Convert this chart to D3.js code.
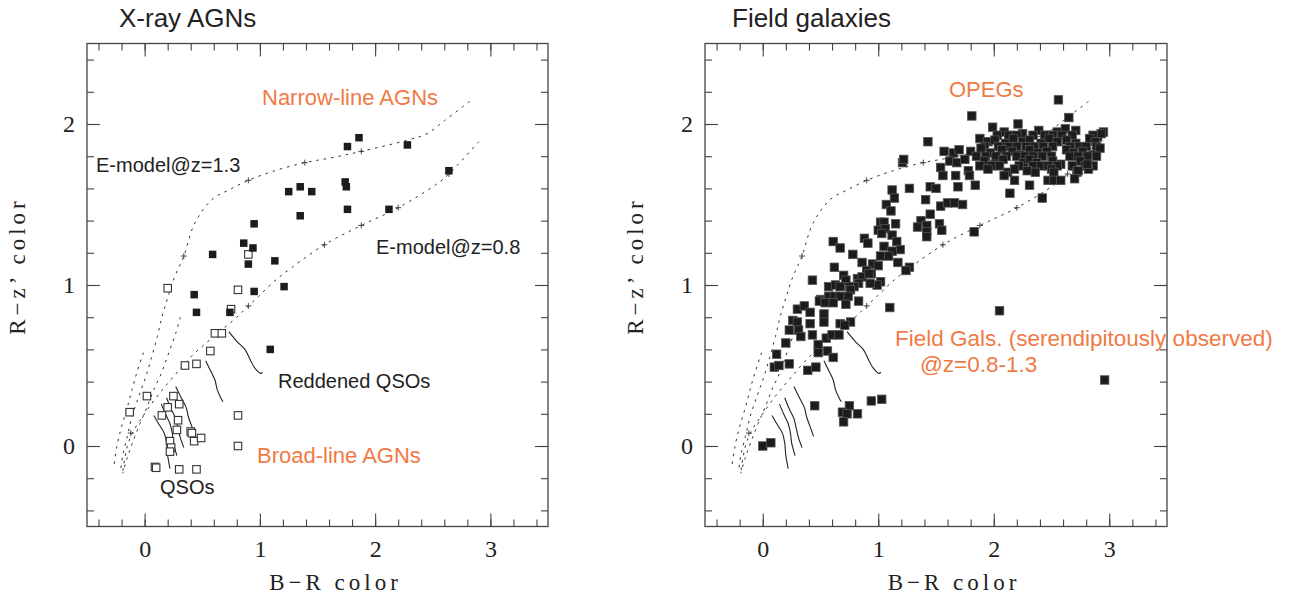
<!DOCTYPE html>
<html>
<head>
<meta charset="utf-8">
<script src="https://cdn.jsdelivr.net/npm/d3@7"></script>
<style>
  body { margin: 0; background: #fff; }
  svg { display: block; }
</style>
</head>
<body>
<div id="chart"></div>
<script>
// tick labels for both panels
const xTicks = [0, 1, 2, 3];
const yTicks = [0, 1, 2];

// X-ray AGNs panel, points are [B-R, R-z']
const narrowLineAGNs = [
  [1.76, 1.86], [1.86, 1.915], [2.28, 1.87], [2.64, 1.71], [1.25, 1.58], [1.35, 1.61],
  [1.45, 1.58], [1.74, 1.64], [1.75, 1.61], [1.76, 1.47], [2.12, 1.47], [1.35, 1.43],
  [0.95, 1.38], [0.86, 1.26], [0.94, 1.23], [0.59, 1.19], [1.13, 1.15], [0.90, 1.13],
  [1.21, 0.99], [0.43, 0.94], [0.95, 0.96], [0.45, 0.83], [0.74, 0.83], [1.09, 0.60]
];
const broadLineAGNs = [
  [0.90, 1.19], [0.20, 0.98], [0.81, 0.97], [0.75, 0.85], [0.61, 0.70], [0.67, 0.70],
  [0.57, 0.59], [0.35, 0.50], [0.45, 0.51], [0.02, 0.31], [0.25, 0.31], [-0.13, 0.21],
  [0.20, 0.24], [0.30, 0.26], [0.15, 0.19], [0.29, 0.16], [0.81, 0.19], [0.28, 0.10],
  [0.40, 0.09], [0.41, 0.08], [0.22, 0.03], [0.23, -0.01], [0.22, -0.035], [0.43, 0.03],
  [0.49, 0.05], [0.81, 0.0], [0.09, -0.13], [0.10, -0.135], [0.30, -0.145], [0.45, -0.145]
];

// Field galaxies panel
const fieldGalaxies = [
  // top and the dense OPEG clump
  [2.56, 2.15], [1.81, 2.05], [2.65, 2.04], [2.21, 2.00], [2.71, 1.96], [1.99, 1.98],
  [1.43, 1.89], [2.95, 1.95], [2.90, 1.92], [1.21, 1.76], [1.22, 1.78],
  [2.09, 1.95], [2.25, 1.94], [2.39, 1.96], [2.47, 1.93], [2.55, 1.95], [2.62, 1.97], [2.93, 1.94],
  [2.03, 1.93], [2.13, 1.93], [2.20, 1.93], [2.34, 1.93], [2.44, 1.93], [2.51, 1.93], [2.59, 1.93],
  [2.68, 1.93], [2.86, 1.93],
  [1.88, 1.91], [1.95, 1.89], [2.01, 1.90], [2.10, 1.88], [2.17, 1.91], [2.25, 1.89], [2.31, 1.90],
  [2.41, 1.88], [2.48, 1.91], [2.55, 1.89], [2.63, 1.90], [2.71, 1.88], [2.83, 1.91], [2.88, 1.89],
  [1.92, 1.86], [2.04, 1.86], [2.13, 1.86], [2.20, 1.86], [2.28, 1.86], [2.35, 1.86], [2.43, 1.86],
  [2.51, 1.86], [2.66, 1.86], [2.74, 1.86], [2.80, 1.86], [2.89, 1.86],
  [1.57, 1.83], [1.65, 1.82], [1.70, 1.84], [1.80, 1.83], [1.89, 1.85], [1.97, 1.82], [2.07, 1.84],
  [2.16, 1.83], [2.23, 1.81], [2.31, 1.84], [2.38, 1.82], [2.46, 1.83], [2.63, 1.84], [2.69, 1.82],
  [2.77, 1.83], [2.86, 1.81], [2.92, 1.85],
  [1.85, 1.80], [1.93, 1.80], [2.02, 1.80], [2.11, 1.80], [2.20, 1.80], [2.27, 1.80], [2.34, 1.80],
  [2.42, 1.80], [2.50, 1.80], [2.66, 1.80], [2.73, 1.80], [2.81, 1.80], [2.89, 1.80],
  [1.62, 1.77], [1.68, 1.76], [1.75, 1.78], [1.92, 1.77], [2.01, 1.75], [2.08, 1.78], [2.26, 1.76],
  [2.31, 1.78], [2.37, 1.76], [2.51, 1.77], [2.58, 1.75], [2.75, 1.77], [2.79, 1.74],
  [1.88, 1.74], [1.98, 1.74], [2.05, 1.74], [2.22, 1.74], [2.34, 1.74], [2.41, 1.74], [2.47, 1.74],
  [2.55, 1.74], [2.68, 1.74], [2.86, 1.74],
  [1.78, 1.71], [1.95, 1.72], [2.12, 1.70], [2.18, 1.72], [2.29, 1.71], [2.36, 1.70], [2.50, 1.72],
  [2.72, 1.70], [2.82, 1.72], [2.81, 1.75], [2.73, 1.71],
  [1.54, 1.73], [1.56, 1.68], [1.67, 1.68], [1.79, 1.68], [2.18, 1.65], [2.09, 1.68], [2.52, 1.70],
  [2.47, 1.65], [2.52, 1.65], [2.58, 1.65], [2.70, 1.66], [2.31, 1.62], [2.14, 1.57], [2.42, 1.54],
  [1.84, 1.62], [1.69, 1.61], [1.45, 1.61], [1.50, 1.60], [1.27, 1.60], [1.12, 1.59], [1.14, 1.54],
  [1.41, 1.53], [1.54, 1.49], [1.60, 1.51], [1.66, 1.51], [1.73, 1.50], [1.83, 1.33],
  // middle of the sequence
  [1.07, 1.50], [1.11, 1.46], [1.45, 1.44], [1.02, 1.39], [1.05, 1.39], [1.15, 1.38], [1.37, 1.40],
  [1.34, 1.36], [1.42, 1.37], [1.42, 1.33], [1.42, 1.30], [1.53, 1.38], [1.55, 1.34], [1.00, 1.34],
  [1.06, 1.35], [1.03, 1.32], [1.12, 1.31], [0.88, 1.29], [0.91, 1.26], [1.16, 1.27], [1.19, 1.22],
  [0.61, 1.27], [0.67, 1.23], [1.05, 1.24], [1.12, 1.21], [0.78, 1.19], [1.02, 1.18], [1.09, 1.18],
  [1.17, 1.14], [0.86, 1.14], [0.95, 1.13], [1.00, 1.12], [0.62, 1.11], [1.27, 1.11], [1.24, 1.09],
  [0.90, 1.09], [0.94, 1.07], [0.70, 1.06], [0.72, 1.03], [0.82, 1.04], [0.86, 1.05], [0.43, 1.03],
  [0.83, 1.01], [0.79, 0.99], [1.02, 1.02], [0.99, 1.00], [0.57, 0.99], [0.63, 1.00], [0.67, 0.99],
  [0.75, 0.99], [0.76, 0.97], [0.57, 0.93], [0.62, 0.93], [0.67, 0.93], [0.74, 0.93], [0.50, 0.91],
  [0.92, 1.07], [0.93, 1.01],
  // lower part
  [0.49, 0.90], [0.54, 0.89], [0.53, 0.82], [0.61, 0.89], [0.72, 0.88], [0.83, 0.90], [1.10, 0.86],
  [0.30, 0.85], [0.36, 0.87], [0.41, 0.83], [0.53, 0.77], [0.26, 0.78], [0.30, 0.77], [0.41, 0.76],
  [0.67, 0.76], [0.76, 0.77], [0.71, 0.75], [0.23, 0.72], [0.31, 0.72], [0.33, 0.68], [0.43, 0.69],
  [0.55, 0.67], [0.60, 0.69], [0.66, 0.69], [0.20, 0.64], [0.48, 0.63], [0.48, 0.58], [0.56, 0.59],
  [0.61, 0.55], [0.12, 0.57], [0.10, 0.49], [0.14, 0.50], [0.23, 0.51], [0.39, 0.47], [0.46, 0.49],
  [0.45, 0.25], [0.75, 0.25], [0.69, 0.21], [0.73, 0.20], [0.82, 0.20], [0.70, 0.15], [0.94, 0.28],
  [1.03, 0.29], [0.0, 0.0], [0.07, 0.02],
  // outliers
  [2.05, 0.84], [2.96, 0.41]
];

// model tracks (same in both panels)
const eModelZ13 = [
  [2.82, 2.14], [2.60, 2.02], [2.45, 1.94], [2.28, 1.90], [1.88, 1.83], [1.62, 1.79], [1.39, 1.76],
  [1.13, 1.71], [0.90, 1.65], [0.73, 1.59], [0.60, 1.54], [0.51, 1.47], [0.42, 1.36], [0.34, 1.18],
  [0.26, 1.05], [0.20, 0.92], [0.15, 0.80], [0.11, 0.68], [0.06, 0.55], [0.01, 0.43], [-0.05, 0.31],
  [-0.11, 0.18], [-0.15, 0.06], [-0.19, -0.06], [-0.21, -0.16]
];
const eModelZ08 = [
  [2.90, 1.89], [2.64, 1.69], [2.54, 1.63], [2.20, 1.48], [1.88, 1.37], [1.56, 1.25], [1.28, 1.11],
  [1.12, 1.02], [0.99, 0.93], [0.90, 0.87], [0.80, 0.80], [0.60, 0.68], [0.41, 0.56], [0.25, 0.43],
  [0.11, 0.31], [-0.01, 0.19], [-0.10, 0.09], [-0.15, 0.0], [-0.19, -0.16]
];
const youngTrack = [
  [-0.01, 0.58], [-0.07, 0.45], [-0.11, 0.35], [-0.15, 0.24], [-0.20, 0.12], [-0.24, 0.0], [-0.27, -0.14]
];
const midTrack = [
  [0.31, 0.80], [0.27, 0.70], [0.21, 0.58], [0.15, 0.46], [0.08, 0.35], [0.02, 0.24], [-0.04, 0.14],
  [-0.10, 0.03], [-0.15, -0.07], [-0.19, -0.17]
];
const modelMarks = [
  [1.88, 1.83], [1.39, 1.76], [0.90, 1.65], [0.34, 1.18], [2.64, 1.69], [2.20, 1.48], [1.88, 1.37],
  [1.56, 1.25], [0.90, 0.87], [-0.12, 0.08]
];

// reddened QSO tracks (solid)
const reddenedTracks = [
  [[0.73, 0.71], [0.80, 0.65], [0.87, 0.60], [0.92, 0.53], [0.96, 0.48], [1.01, 0.45], [1.02, 0.46]],
  [[0.53, 0.53], [0.57, 0.47], [0.61, 0.41], [0.63, 0.35], [0.66, 0.30], [0.68, 0.275]],
  [[0.27, 0.37], [0.31, 0.31], [0.36, 0.24], [0.38, 0.18], [0.41, 0.12], [0.44, 0.06]],
  [[0.19, 0.30], [0.23, 0.23], [0.27, 0.17], [0.29, 0.11], [0.31, 0.05], [0.34, -0.01]],
  [[0.145, 0.26], [0.18, 0.20], [0.22, 0.14], [0.24, 0.08], [0.25, 0.02], [0.28, -0.06]],
  [[0.08, 0.19], [0.12, 0.14], [0.17, 0.08], [0.19, 0.02], [0.20, -0.06], [0.22, -0.14]]
];

// annotation texts
const leftLabels = [
  { text: "Narrow-line AGNs", x: 262, y: 105, size: 22, color: "#f07a45" },
  { text: "E-model@z=1.3", x: 96, y: 172, size: 20, color: "#222" },
  { text: "E-model@z=0.8", x: 376, y: 254, size: 20, color: "#222" },
  { text: "Reddened QSOs", x: 278, y: 388, size: 20, color: "#222" },
  { text: "Broad-line AGNs", x: 257, y: 463, size: 22, color: "#f07a45" },
  { text: "QSOs", x: 160, y: 494, size: 20, color: "#222" }
];
const rightLabels = [
  { text: "OPEGs", x: 949, y: 97, size: 22, color: "#f07a45" },
  { text: "Field Gals. (serendipitously observed)", x: 895, y: 346, size: 22.5, color: "#f07a45" },
  { text: "@z=0.8-1.3", x: 920, y: 372, size: 22.5, color: "#f07a45" }
];

const W = 1290, H = 599;
const plotTop = 43.5, plotBottom = 526.5;

const svg = d3.select("#chart")
  .append("svg")
  .attr("width", W)
  .attr("height", H);

function drawPanel(left, right, title, titleX, labels, drawPoints) {
  const x = d3.scaleLinear().domain([-0.5, 3.5]).range([left, right]);
  const y = d3.scaleLinear().domain([-0.5, 2.5]).range([plotBottom, plotTop]);
  const g = svg.append("g");

  // minor + major ticks on all four sides, pointing in
  const minorX = d3.range(-0.4, 3.45, 0.2);
  const minorY = d3.range(-0.4, 2.45, 0.2);
  const sides = [
    { axis: d3.axisBottom, scale: x, pos: `translate(0,${plotBottom})`, minor: minorX, major: xTicks, labels: true },
    { axis: d3.axisTop, scale: x, pos: `translate(0,${plotTop})`, minor: minorX, major: xTicks, labels: false },
    { axis: d3.axisLeft, scale: y, pos: `translate(${left},0)`, minor: minorY, major: yTicks, labels: true },
    { axis: d3.axisRight, scale: y, pos: `translate(${right},0)`, minor: minorY, major: yTicks, labels: false }
  ];
  sides.forEach(s => {
    const gm = g.append("g").attr("transform", s.pos)
      .call(s.axis(s.scale).tickValues(s.minor).tickSize(-7).tickFormat(""));
    const gM = g.append("g").attr("transform", s.pos)
      .call(s.axis(s.scale).tickValues(s.major).tickSize(-13)
        .tickPadding(s.axis === d3.axisBottom ? 13.5 : 12)
        .tickFormat(s.labels ? d3.format("d") : ""));
    [gm, gM].forEach(a => {
      a.select(".domain").remove();
      a.selectAll(".tick line").attr("stroke", "#444").attr("stroke-width", 1.1);
      a.selectAll(".tick text")
        .attr("font-family", "'Liberation Serif', 'Times New Roman', serif")
        .attr("font-size", 24)
        .attr("fill", "#222");
    });
  });

  // frame
  g.append("rect")
    .attr("x", left).attr("y", plotTop)
    .attr("width", right - left).attr("height", plotBottom - plotTop)
    .attr("fill", "none").attr("stroke", "#444").attr("stroke-width", 1.3);

  // dashed model curves
  const line = d3.line().x(d => x(d[0])).y(d => y(d[1])).curve(d3.curveCatmullRom.alpha(0.5));
  [eModelZ13, eModelZ08, youngTrack, midTrack].forEach(c => {
    g.append("path").attr("d", line(c))
      .attr("fill", "none").attr("stroke", "#333").attr("stroke-width", 1)
      .attr("stroke-dasharray", "2.5,5");
  });
  g.selectAll(".mark").data(modelMarks).enter().append("path")
    .attr("class", "mark")
    .attr("d", d => `M${x(d[0]) - 3},${y(d[1])}h6M${x(d[0])},${y(d[1]) - 3}v6`)
    .attr("stroke", "#333").attr("stroke-width", 0.9);

  // solid reddened QSO tracks
  reddenedTracks.forEach(t => {
    g.append("path").attr("d", line(t))
      .attr("fill", "none").attr("stroke", "#222").attr("stroke-width", 1.1);
  });

  drawPoints(g, x, y);

  // titles and labels
  g.append("text")
    .attr("x", titleX).attr("y", 27)
    .attr("font-family", "'Liberation Sans', Arial, sans-serif")
    .attr("font-size", 26).attr("fill", "#222")
    .text(title);

  const axisFont = "'Liberation Serif', 'Times New Roman', serif";
  g.append("text")
    .attr("x", (left + right) / 2 + 18).attr("y", 590)
    .attr("text-anchor", "middle")
    .attr("font-family", axisFont).attr("font-size", 23)
    .attr("letter-spacing", 4).attr("fill", "#222")
    .text("B\u2212R color");
  g.append("text")
    .attr("transform", `translate(${left - 62},266) rotate(-90)`)
    .attr("text-anchor", "middle")
    .attr("font-family", axisFont).attr("font-size", 23)
    .attr("letter-spacing", 4).attr("fill", "#222")
    .text("R\u2212z\u2019 color");

  g.selectAll(".label").data(labels).enter().append("text")
    .attr("class", "label")
    .attr("x", d => d.x).attr("y", d => d.y)
    .attr("font-family", "'Liberation Sans', Arial, sans-serif")
    .attr("font-size", d => d.size)
    .attr("fill", d => d.color)
    .text(d => d.text);
}

const sq = 7.5;
const sqField = 8.5;

// left panel
drawPanel(87, 548, "X-ray AGNs", 119, leftLabels, (g, x, y) => {
  g.selectAll(".open").data(broadLineAGNs).enter().append("rect")
    .attr("class", "open")
    .attr("x", d => x(d[0]) - sq / 2).attr("y", d => y(d[1]) - sq / 2)
    .attr("width", sq).attr("height", sq)
    .attr("fill", "#fff").attr("stroke", "#333").attr("stroke-width", 1.1);
  g.selectAll(".filled").data(narrowLineAGNs).enter().append("rect")
    .attr("class", "filled")
    .attr("x", d => x(d[0]) - sq / 2).attr("y", d => y(d[1]) - sq / 2)
    .attr("width", sq).attr("height", sq)
    .attr("fill", "#1c1c1c");
});

// right panel
drawPanel(705, 1167, "Field galaxies", 732, rightLabels, (g, x, y) => {
  g.selectAll(".gal").data(fieldGalaxies).enter().append("rect")
    .attr("class", "gal")
    .attr("x", d => x(d[0]) - sqField / 2).attr("y", d => y(d[1]) - sqField / 2)
    .attr("width", sqField).attr("height", sqField)
    .attr("fill", "#1c1c1c").attr("stroke", "#555").attr("stroke-width", 0.8);
});
</script>
</body>
</html>
